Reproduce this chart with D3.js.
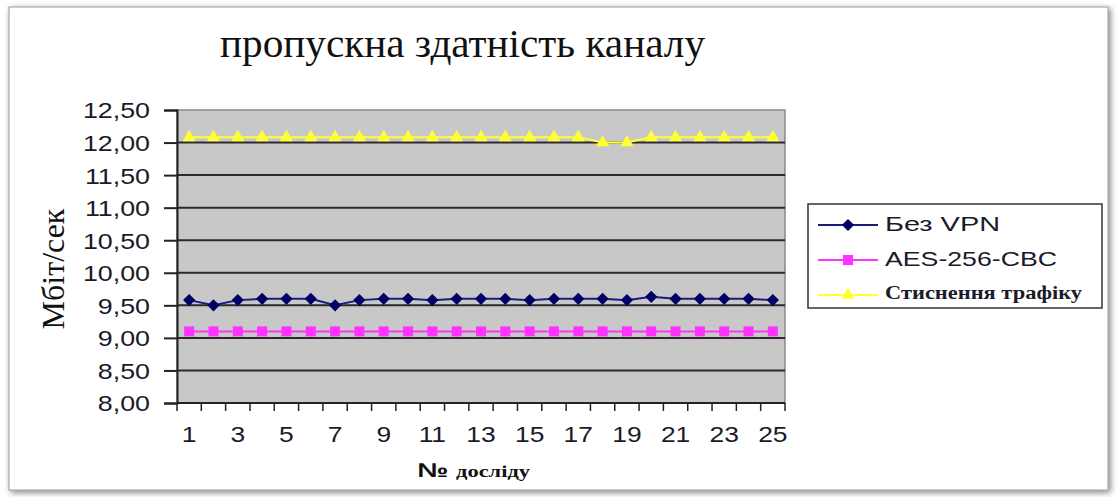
<!DOCTYPE html>
<html><head><meta charset="utf-8">
<script src="https://cdn.jsdelivr.net/npm/d3@7"></script>
<style>html,body{margin:0;padding:0;background:#fff;}svg{display:block;}</style>
</head><body>
<script>
const categories = d3.range(1, 26);
const bezVPN = [9.58,9.50,9.58,9.60,9.60,9.60,9.50,9.58,9.60,9.60,9.58,9.60,9.60,9.60,9.58,9.60,9.60,9.60,9.58,9.63,9.60,9.60,9.60,9.60,9.58];
const aes = [9.10,9.10,9.10,9.10,9.10,9.10,9.10,9.10,9.10,9.10,9.10,9.10,9.10,9.10,9.10,9.10,9.10,9.10,9.10,9.10,9.10,9.10,9.10,9.10,9.10];
const compress = [12.08,12.08,12.08,12.08,12.08,12.08,12.08,12.08,12.08,12.08,12.08,12.08,12.08,12.08,12.08,12.08,12.08,12.00,12.00,12.08,12.08,12.08,12.08,12.08,12.08];
const yTicks = [8,8.5,9,9.5,10,10.5,11,11.5,12,12.5];
const xTickLabels = categories.filter(d => d % 2 === 1);
const seriesNames = ["Без VPN", "AES-256-CBC", "Стиснення трафіку"];

const W = 1118, H = 497;
const SANS = "Liberation Sans, Arial, sans-serif", SERIF = "Liberation Serif, Times New Roman, serif";
const svg = d3.select("body").append("svg").attr("width", W).attr("height", H);
const defs = svg.append("defs");
const f = defs.append("filter").attr("id","sh").attr("x","-5%").attr("y","-5%").attr("width","110%").attr("height","110%");
f.append("feGaussianBlur").attr("in","SourceAlpha").attr("stdDeviation",3).attr("result","b");
f.append("feOffset").attr("in","b").attr("dx",2).attr("dy",2).attr("result","o");
f.append("feComponentTransfer").attr("in","o").attr("result","o2").append("feFuncA").attr("type","linear").attr("slope",0.5);
const mg = f.append("feMerge"); mg.append("feMergeNode").attr("in","o2"); mg.append("feMergeNode").attr("in","SourceGraphic");

svg.append("rect").attr("x",9).attr("y",7).attr("width",1099).attr("height",483)
  .attr("fill","#fff").attr("stroke","#9a9a9a").attr("stroke-width",1).attr("filter","url(#sh)");

const pL = 177, pR = 785, pT = 110, pB = 403;
const x = d3.scaleBand().domain(categories).range([pL, pR]);
const y = d3.scaleLinear().domain([8, 12.5]).range([pB, pT]);

svg.append("rect").attr("x",pL).attr("y",pT).attr("width",pR-pL).attr("height",pB-pT)
  .attr("fill","#c8c8c8").attr("stroke","#8a8a8a").attr("stroke-width",1.5);

svg.append("g").selectAll("line").data(yTicks.filter(t => t > 8 && t < 12.5)).join("line")
  .attr("x1",pL).attr("x2",pR).attr("y1",d=>y(d)).attr("y2",d=>y(d))
  .attr("stroke","#2a2a2a").attr("stroke-width",2);

const yAxis = svg.append("g").attr("transform",`translate(${pL},0)`)
  .call(d3.axisLeft(y).tickValues(yTicks).tickSize(13).tickPadding(14)
    .tickFormat(d => d3.format(".2f")(d).replace(".", ",")));
yAxis.select(".domain").attr("stroke","#222").attr("stroke-width",2);
yAxis.selectAll(".tick line").attr("stroke","#222").attr("stroke-width",2);
yAxis.selectAll("text").attr("font-family",SANS).attr("font-size",22).attr("fill","#1a1a2a")
  .attr("x",0).attr("dy","0.36em").attr("transform","translate(-27,0) scale(1.22,1)");

const xAxisG = svg.append("g").attr("transform",`translate(0,${pB})`);
xAxisG.append("line").attr("x1",pL).attr("x2",pR).attr("y1",0).attr("y2",0).attr("stroke","#222").attr("stroke-width",2);
xAxisG.selectAll("line.t").data(d3.range(0, categories.length + 1)).join("line").attr("class","t")
  .attr("x1",i => pL + i * x.step()).attr("x2",i => pL + i * x.step())
  .attr("y1",0).attr("y2",8).attr("stroke","#222").attr("stroke-width",1.5);
xAxisG.selectAll("text").data(xTickLabels).join("text")
  .attr("transform", d => `translate(${x(d) + x.bandwidth()/2},39) scale(1.2,1)`)
  .attr("text-anchor","middle").attr("font-family",SANS)
  .attr("font-size",22).attr("fill","#1a1a2a").text(d => d);

const cx = d => x(d) + x.bandwidth()/2;
const diamond = { draw(ctx, size){ const r = Math.sqrt(size)/2; ctx.moveTo(0,-r); ctx.lineTo(r,0); ctx.lineTo(0,r); ctx.lineTo(-r,0); ctx.closePath(); } };
function drawSeries(vals, color, lineColor, shape, size) {
  const data = categories.map((c,i)=>({c, v: vals[i]}));
  svg.append("path").datum(data).attr("fill","none").attr("stroke",lineColor).attr("stroke-width",2)
    .attr("d", d3.line().x(d=>cx(d.c)).y(d=>y(d.v)));
  svg.append("g").selectAll("path").data(data).join("path")
    .attr("transform", d=>`translate(${cx(d.c)},${y(d.v)})`)
    .attr("d", d3.symbol().type(shape).size(size)).attr("fill",color);
}
drawSeries(compress, "#ffff33", "#ffff33", d3.symbolTriangle, 75);
drawSeries(aes, "#ff33ff", "#ff33ff", d3.symbolSquare, 100);
drawSeries(bezVPN, "#000066", "#1a1a80", diamond, 150);

svg.append("text").attr("x",220).attr("y",57)
  .attr("font-family",SERIF).attr("font-size",40).attr("fill","#111")
  .attr("textLength",485).attr("lengthAdjust","spacingAndGlyphs")
  .text("пропускна здатність каналу");

svg.append("text").attr("transform","translate(64,269) rotate(-90)").attr("text-anchor","middle")
  .attr("font-family",SERIF).attr("font-size",32).attr("fill","#111")
  .text("Мбіт/сек");

const xl = svg.append("text").attr("x",417).attr("y",477).attr("fill","#111")
  .attr("textLength",113).attr("lengthAdjust","spacingAndGlyphs");
xl.append("tspan").attr("font-family",SANS).attr("font-weight","bold").attr("font-size",20).text("№ ");
xl.append("tspan").attr("font-family",SERIF).attr("font-weight","bold").attr("font-size",16).text("досліду");

const lg = svg.append("g");
lg.append("rect").attr("x",808).attr("y",204).attr("width",294).attr("height",104)
  .attr("fill","#fff").attr("stroke","#333").attr("stroke-width",1.5);
const legData = [
  {name: seriesNames[0], color:"#000066", line:"#1a1a80", shape: diamond, msize:150, font:SANS, size:21, weight:"normal", len:115, dy:6},
  {name: seriesNames[1], color:"#ff33ff", line:"#ff33ff", shape: d3.symbolSquare, msize:100, font:SANS, size:21, weight:"normal", len:172, dy:6},
  {name: seriesNames[2], color:"#ffff33", line:"#ffff33", shape: d3.symbolTriangle, msize:75, font:SERIF, size:18, weight:"bold", len:197, dy:4}
];
legData.forEach((d,i) => {
  const yy = 225 + i * 35;
  lg.append("line").attr("x1",818).attr("x2",878).attr("y1",yy).attr("y2",yy).attr("stroke",d.line).attr("stroke-width",2);
  lg.append("path").attr("transform",`translate(848,${yy})`).attr("d", d3.symbol().type(d.shape).size(d.msize)).attr("fill",d.color);
  lg.append("text").attr("x",885).attr("y",yy+d.dy).attr("font-family",d.font).attr("font-size",d.size)
    .attr("font-weight",d.weight).attr("fill","#1a1a2a")
    .attr("textLength",d.len).attr("lengthAdjust","spacingAndGlyphs").text(d.name);
});
</script>
</body></html>
